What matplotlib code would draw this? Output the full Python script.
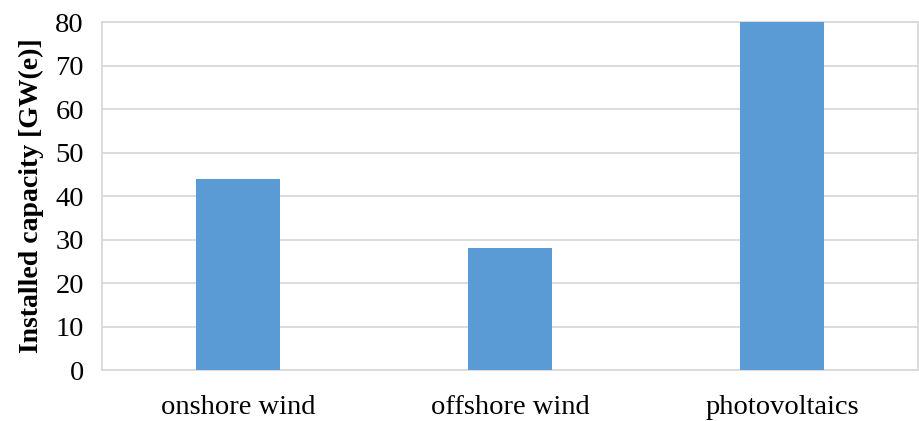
import matplotlib.pyplot as plt

# installed capacity per technology
categories = ['onshore wind', 'offshore wind', 'photovoltaics']
capacity = [44, 28, 80]

plt.rcParams['font.family'] = ['Liberation Serif', 'DejaVu Serif']

fig = plt.figure(figsize=(9.2, 4.21), dpi=100)
ax = fig.add_axes([0.1109, 0.1211, 0.8869, 0.8266])

x = range(len(categories))
ax.bar(x, capacity, width=0.31, color='#5b9bd5', zorder=3)

ax.set_xlim(-0.5, 2.5)
ax.set_ylim(0, 80)
ax.set_yticks(range(0, 81, 10))
ax.set_xticks(list(x))
ax.set_xticklabels(categories)
ax.tick_params(axis='both', length=0, labelsize=20.5, colors='black')
ax.tick_params(axis='x', pad=18)
ax.tick_params(axis='y', pad=13)

ax.grid(axis='y', color='#d9d9d9', linewidth=1.3, zorder=0)
for s in ax.spines.values():
    s.set_color('#d9d9d9')
    s.set_linewidth(1.3)

ax.set_ylabel('Installed capacity [GW(e)]', fontsize=20, fontweight='bold', labelpad=8)

fig.savefig('out.png', dpi=100)
